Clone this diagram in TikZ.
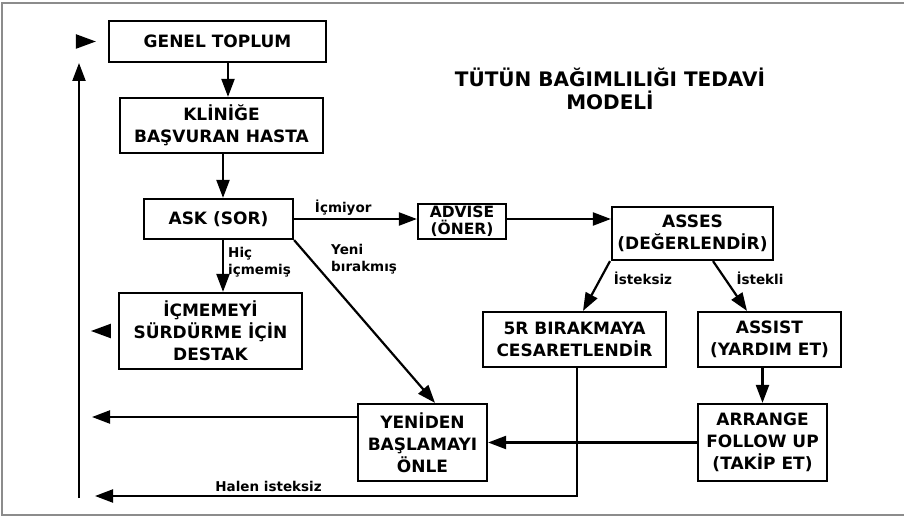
\documentclass[tikz,border=0pt]{standalone}
\usepackage{fontspec}
\setmainfont{DejaVu Sans}
\usetikzlibrary{arrows.meta, calc, positioning}
\definecolor{FrameGrey}{HTML}{8C8C8C}

\begin{document}
\begin{tikzpicture}[
  x=1pt, y=-1pt,
  box/.style={draw, line width=2.2pt, align=center, inner sep=0pt,
              font=\fontsize{17}{22}\selectfont\bfseries},
  lbl/.style={font=\fontsize{13.5}{17.5}\selectfont\bfseries, align=left, inner sep=1pt},
  ttl/.style={font=\fontsize{20}{23}\selectfont\bfseries, align=center},
  ar/.style={-{Triangle[length=18pt,width=13pt]}, line width=2.2pt},
  headonly/.style={-{Triangle[length=20pt,width=14pt]}, line width=2.2pt}
]
  \useasboundingbox (0,0) rectangle (904,516);
  \draw[FrameGrey, line width=1.2pt] (904,3) -- (2,3) -- (2,515) -- (904,515);

  \node[ttl] (title) at (610,89) {TÜTÜN BAĞIMLILIĞI TEDAVİ\\MODELİ};

  % left column
  \node[box, minimum width=217pt, minimum height=41pt] (gt)  at (217.5,41.5) {GENEL TOPLUM};
  \node[box, minimum width=203pt, minimum height=55pt] (kl)  at (221.5,125.5) {KLİNİĞE\\BAŞVURAN HASTA};
  \node[box, minimum width=149pt, minimum height=40pt] (ask) at (218.5,219) {ASK (SOR)};
  \node[box, minimum width=183pt, minimum height=76pt] (icm) at (210.5,331)
      {İÇMEMEYİ\\SÜRDÜRME İÇİN\\DESTAK};
  \node[box, minimum width=129pt, minimum height=77pt] (yen) at (422.5,442.5)
      {YENİDEN\\BAŞLAMAYI\\ÖNLE};

  % right side
  \node[box, minimum width=88pt, minimum height=35pt,
        font=\fontsize{15.5}{16.5}\selectfont\bfseries] (adv) at (462,221.5) {ADVISE\\(ÖNER)};
  \node[box, minimum width=161pt, minimum height=53pt] (ass) at (692.5,233.5) {ASSES\\(DEĞERLENDİR)};
  \node[box, minimum width=183pt, minimum height=55pt] (fr)  at (574.5,339.5) {5R BIRAKMAYA\\CESARETLENDİR};
  \node[box, minimum width=143pt, minimum height=55pt] (asi) at (769.5,339.5) {ASSIST\\(YARDIM ET)};
  \node[box, minimum width=129pt, minimum height=77pt] (arr) at (762.5,442.5)
      {ARRANGE\\FOLLOW UP\\(TAKİP ET)};

  % return rail on the left
  \coordinate (railbot) at (79,498);
  \coordinate (railtop) at (79,63);
  \coordinate (backyen) at (92,417);
  \coordinate (backfr)  at (95,496);

  \draw[ar] ([xshift=10.5pt]gt.south) -- ([xshift=10.5pt]gt.south |- kl.north);
  \draw[ar] ([xshift=1.5pt]kl.south) -- ([xshift=1.5pt]kl.south |- ask.north);
  \draw[ar] ([xshift=4.5pt]ask.south) -- ([xshift=4.5pt]ask.south |- icm.north);
  \node[lbl, anchor=west] (hic) at (227,262) {Hiç\\içmemiş};

  \draw[ar] (ask.east) -- (ask.east -| adv.west) node[lbl, pos=0.4, above=1pt] {İçmiyor};
  \draw[ar] (adv.east |- ask.east) -- (ask.east -| ass.west);

  \draw[ar] (ask.south east) -- ([xshift=12.5pt]yen.north);
  \node[lbl, anchor=west] (yeni) at (330,259) {Yeni\\bırakmış};

  \draw[ar] ([xshift=-82.5pt]ass.south) -- ([xshift=8.5pt]fr.north);
  \node[lbl] (istsiz) at (643,278) {İsteksiz};
  \draw[ar] ([xshift=20.5pt]ass.south) -- ([xshift=-22.5pt]asi.north);
  \node[lbl] (istli) at (760,278) {İstekli};

  \draw[ar] (arr.north |- asi.south) -- (arr.north);
  \draw[ar] (arr.west) -- (arr.west -| yen.east);

  \draw[ar] ([yshift=25.5pt]yen.west) -- (backyen);
  \draw[ar] ([xshift=2.5pt]fr.south) |- (backfr) node[lbl, pos=0.82, above=2pt] {Halen isteksiz};
  \draw[ar] (railbot) -- (railtop);

  % loose heads
  \draw[headonly] ([xshift=-32pt]gt.west) -- ([xshift=-12pt]gt.west);
  \draw[headonly] ([xshift=-7pt]icm.west) -- ([xshift=-27pt]icm.west);
\end{tikzpicture}
\end{document}
